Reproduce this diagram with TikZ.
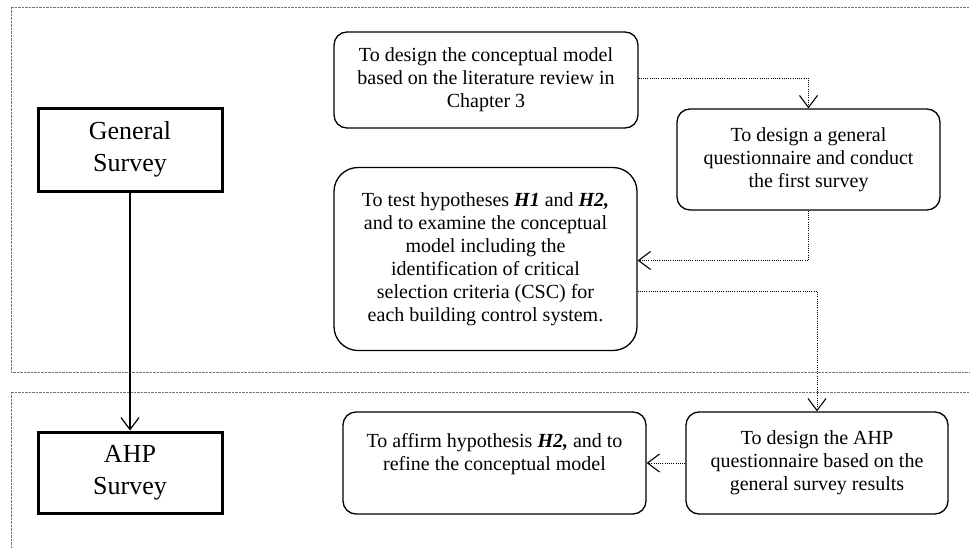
\documentclass[tikz,border=0pt]{standalone}
\usepackage{fontspec}
\setmainfont{Liberation Serif}
\usetikzlibrary{arrows.meta}
\begin{document}
\begin{tikzpicture}[x=1pt,y=-1pt,
  frame/.style={draw=black!55, line width=0.7pt, dash pattern=on 0.7pt off 0.7pt},
  surveybox/.style={draw, line width=3pt, minimum width=184pt, inner sep=0pt, align=center, font=\fontsize{26}{32}\selectfont},
  taskbox/.style={draw, line width=1.3pt, rounded corners=13pt, inner sep=0pt, align=center, font=\fontsize{20}{23}\selectfont},
  flow/.style={line width=1pt, dash pattern=on 1pt off 1.2pt, -{Straight Barb[length=12pt,width=18pt,line width=1.1pt]}},
  link/.style={line width=1.2pt, -{Straight Barb[length=12pt,width=18pt,line width=1.2pt]}}
]
\useasboundingbox (0,0) rectangle (970,549);
\begin{scope}
\clip (0,0) rectangle (970,549);
% region frames
\draw[frame] (980,7) -- (11,7) -- (11,372) -- (980,372);
\draw[frame] (980,392) -- (11,392) -- (11,560);

% survey boxes
\node[surveybox, minimum height=83pt] (gs) at (130,149.5) {General\\Survey};
\node[surveybox, minimum height=81pt] (ahp) at (130,472.5) {AHP\\Survey};

% task boxes
\node[taskbox, minimum width=304pt, minimum height=96pt] (b1) at (486,80)
  {To design the conceptual model\\based on the literature review in\\Chapter 3};
\node[taskbox, minimum width=263pt, minimum height=101pt] (b2) at (808.5,159.5)
  {To design a general\\questionnaire and conduct\\the first survey};
\node[taskbox, rounded corners=24pt, minimum width=303pt, minimum height=183pt] (b3) at (485.5,259)
  {To test hypotheses \textbf{\textit{H1}} and \textbf{\textit{H2,}}\\and to examine the conceptual\\model including the\\identification of critical\\selection criteria (CSC) for\\each building control system.};
\node[taskbox, minimum width=262pt, minimum height=102pt] (b4) at (817,463)
  {To design the AHP\\questionnaire based on the\\general survey results};
\node[taskbox, minimum width=303pt, minimum height=102pt] (b5) at (494.5,463)
  {To affirm hypothesis \textbf{\textit{H2,}} and to\\refine the conceptual model\\\mbox{}};

% connectors
\draw[link] (gs.south) -- (ahp.north);
\draw[flow] ([yshift=2pt]b1.east) -| (b2.north);
\draw[flow] (b2.south) |- ([yshift=-1.5pt]b3.east);
\draw[flow] ([yshift=-32pt]b3.east) -| (b4.north);
\draw[flow] (b4.west) -- (b5.east);
\end{scope}
\end{tikzpicture}
\end{document}
